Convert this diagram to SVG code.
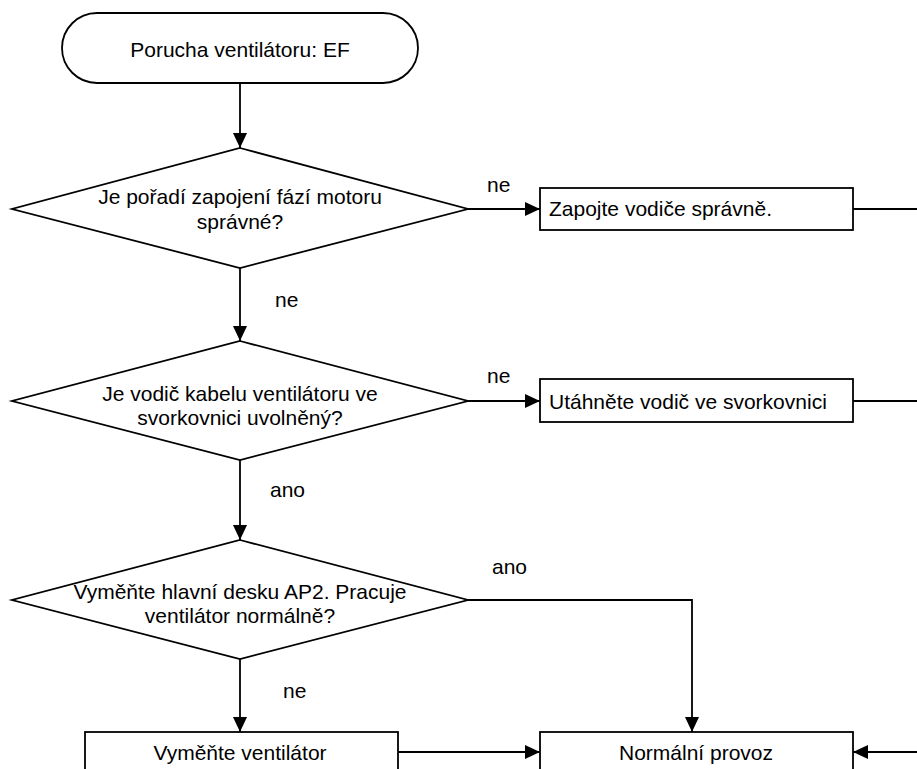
<svg xmlns="http://www.w3.org/2000/svg" width="917" height="769" viewBox="0 0 917 769">
<style>
.s{fill:#fff;stroke:#000;stroke-width:1.8}
.c{fill:none;stroke:#000;stroke-width:1.8}
text{font-family:"Liberation Sans",Arial,sans-serif;font-size:21px;fill:#000}
.m{text-anchor:middle}
</style>
<defs>
<marker id="ah" markerUnits="userSpaceOnUse" markerWidth="16" markerHeight="14" refX="15" refY="7" orient="auto">
<path d="M0,0 L15,7 L0,14 Z" fill="#000"/>
</marker>
</defs>
<rect width="917" height="769" fill="#fff"/>
<g id="connectors">
<line class="c" x1="240" y1="83" x2="240" y2="148" marker-end="url(#ah)"/>
<line class="c" x1="468" y1="209" x2="540" y2="209" marker-end="url(#ah)"/>
<line class="c" x1="853" y1="209" x2="917" y2="209"/>
<line class="c" x1="240" y1="268" x2="240" y2="341" marker-end="url(#ah)"/>
<line class="c" x1="468" y1="401" x2="540" y2="401" marker-end="url(#ah)"/>
<line class="c" x1="853" y1="401" x2="917" y2="401"/>
<line class="c" x1="240" y1="460" x2="240" y2="540" marker-end="url(#ah)"/>
<polyline class="c" points="468,600 692,600 692,732" marker-end="url(#ah)"/>
<line class="c" x1="240" y1="659" x2="240" y2="732" marker-end="url(#ah)"/>
<line class="c" x1="398" y1="752" x2="540" y2="752" marker-end="url(#ah)"/>
<line class="c" x1="917" y1="752" x2="853" y2="752" marker-end="url(#ah)"/>
<text x="487" y="192">ne</text>
<text x="275" y="307">ne</text>
<text x="487" y="383">ne</text>
<text x="270" y="497">ano</text>
<text x="492" y="574">ano</text>
<text x="283" y="698">ne</text>
</g>
<g id="start">
<rect class="s" x="62" y="13" width="356" height="70" rx="35" ry="35"/>
<text class="m" x="240" y="57">Porucha ventilátoru: EF</text>
</g>
<g id="d1">
<polygon class="s" points="240,148 468,209 240,268 12,209"/>
<text class="m" x="240" y="204">Je pořadí zapojení fází motoru</text>
<text class="m" x="240" y="229">správné?</text>
</g>
<g id="b1">
<rect class="s" x="540" y="188" width="313" height="42"/>
<text x="549" y="216">Zapojte vodiče správně.</text>
</g>
<g id="d2">
<polygon class="s" points="240,341 468,401 240,460 12,401"/>
<text class="m" x="240" y="401">Je vodič kabelu ventilátoru ve</text>
<text class="m" x="240" y="425">svorkovnici uvolněný?</text>
</g>
<g id="b2">
<rect class="s" x="540" y="379" width="313" height="43"/>
<text x="549" y="409">Utáhněte vodič ve svorkovnici</text>
</g>
<g id="d3">
<polygon class="s" points="240,540 468,600 240,659 12,600"/>
<text class="m" x="240" y="599">Vyměňte hlavní desku AP2. Pracuje</text>
<text class="m" x="240" y="623">ventilátor normálně?</text>
</g>
<g id="b3">
<rect class="s" x="85" y="732" width="313" height="42"/>
<text class="m" x="240" y="760">Vyměňte ventilátor</text>
</g>
<g id="b4">
<rect class="s" x="540" y="732" width="313" height="42"/>
<text class="m" x="696" y="760">Normální provoz</text>
</g>
</svg>
